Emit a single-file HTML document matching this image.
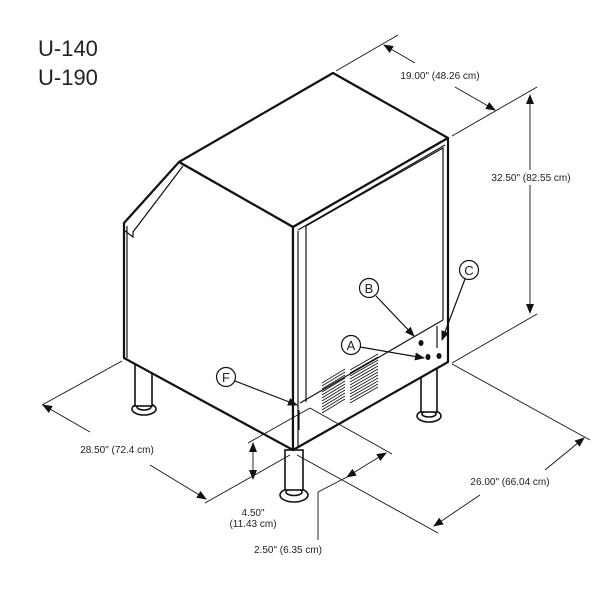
<!DOCTYPE html>
<html><head><style>
html,body{margin:0;padding:0;background:#fff;}
svg{display:block;}
text{font-family:"Liberation Sans",sans-serif;fill:#222;}
</style></head><body>
<svg width="602" height="593" viewBox="0 0 602 593" xmlns="http://www.w3.org/2000/svg">
<defs>
<marker id="ar" markerWidth="10" markerHeight="8" refX="9" refY="4" orient="auto" markerUnits="userSpaceOnUse">
<path d="M0,0 L10,4 L0,8 z" fill="#111"/>
</marker>
</defs>
<text x="38" y="56" font-size="22">U-140</text>
<text x="38" y="85" font-size="22">U-190</text>

<g stroke="#111" fill="none">
<!-- legs -->
<g stroke-width="1.6" fill="#fff">
<ellipse cx="144" cy="409" rx="12" ry="6"/>
<ellipse cx="144" cy="407" rx="7" ry="3"/>
<rect x="135" y="358" width="17" height="48"/>
<ellipse cx="429" cy="416" rx="12" ry="6"/>
<ellipse cx="429" cy="414" rx="7" ry="3"/>
<rect x="421" y="360" width="16" height="52"/>
<ellipse cx="294" cy="495" rx="14" ry="7"/>
<ellipse cx="294" cy="492" rx="8" ry="3.5"/>
<rect x="285" y="450" width="18" height="40"/>
</g>
<!-- body -->
<g stroke-width="2.2" fill="#fff" stroke-linejoin="round">
<path d="M179,162 L333,73 L448,138 L293,227 Z"/>
<path d="M179,162 L124,223 L124,358 L293,450 L293,227 Z"/>
<path d="M293,227 L448,138 L448,362 L293,450 Z"/>
</g>
<g stroke-width="1.2">
<path d="M183,166 L133,232 L133,237 L124,230"/>
<path d="M127,226 L127,358"/>
<path d="M298,230 L445,145"/>
<path d="M306,226 L443,148 L443,320"/>
<path d="M298,231 L298,448"/>
<path d="M306,226 L306,402"/>
<path d="M300,403 L443,320"/>
<path d="M299,410 L299,430"/>
<path d="M437,326 L437,348"/>
</g>
<!-- grille -->
<g stroke-width="0.8">
<path d="M322,392 L345,378 M322,395 L345,381 M322,398 L345,384 M322,401 L345,387 M322,404 L345,390 M322,407 L345,393 M322,410 L345,396 M322,413 L345,399 M322,389 L345,375 M322,386 L345,372 M322,383 L345,369"/>
<path d="M350,376 L378,360 M350,379 L378,363 M350,382 L378,366 M350,385 L378,369 M350,388 L378,372 M350,391 L378,375 M350,394 L378,378 M350,397 L378,381 M350,400 L378,384 M350,403 L378,387 M350,373 L378,357 M350,370 L378,354"/>
</g>
<!-- holes -->
<g fill="#111" stroke="none">
<ellipse cx="421" cy="343" rx="2.5" ry="3"/>
<ellipse cx="428" cy="357" rx="2.5" ry="3"/>
<ellipse cx="439" cy="356" rx="2.5" ry="3"/>
</g>
<!-- callouts -->
<g stroke-width="1.2" fill="#fff">
<circle cx="369" cy="288" r="9.5"/>
<circle cx="469" cy="270" r="9.5"/>
<circle cx="351" cy="345" r="9.5"/>
<circle cx="226" cy="377" r="9.5"/>
</g>
<g stroke-width="1.2" marker-end="url(#ar)">
<line x1="376" y1="296" x2="414" y2="336"/>
<line x1="465" y1="279" x2="442" y2="340"/>
<line x1="360" y1="347" x2="424" y2="358"/>
<line x1="235" y1="381" x2="297" y2="405"/>
</g>
<!-- dimension lines -->
<g stroke-width="0.9">
<line x1="336" y1="71" x2="398" y2="35"/>
<line x1="452" y1="136" x2="537" y2="87"/>
<line x1="452" y1="363" x2="537" y2="314"/>
<line x1="452" y1="364" x2="590" y2="440"/>
<line x1="297" y1="455" x2="438" y2="533"/>
<line x1="122" y1="361" x2="42" y2="405"/>
<line x1="290" y1="455" x2="205" y2="503"/>
<line x1="248" y1="443" x2="310" y2="408"/>
<line x1="310" y1="408" x2="392" y2="454"/>
<line x1="318" y1="492" x2="318" y2="540"/>
<line x1="318" y1="492" x2="347" y2="477"/>
</g>
<g stroke-width="0.9" marker-end="url(#ar)">
<line x1="415" y1="63" x2="384" y2="45"/>
<line x1="455" y1="87" x2="495" y2="110"/>
<line x1="530" y1="170" x2="530" y2="95"/>
<line x1="530" y1="185" x2="530" y2="313"/>
<line x1="545" y1="470" x2="584" y2="438"/>
<line x1="480" y1="495" x2="434" y2="526"/>
<line x1="90" y1="432" x2="43" y2="405"/>
<line x1="150" y1="465" x2="206" y2="499"/>
<line x1="253" y1="460" x2="253" y2="443"/>
<line x1="253" y1="460" x2="253" y2="479"/>
<line x1="366" y1="465" x2="347" y2="477"/>
<line x1="366" y1="465" x2="386" y2="453"/>
</g>
</g>
<g font-size="10">
<text x="440" y="79" text-anchor="middle">19.00" (48.26 cm)</text>
<text x="531" y="181" text-anchor="middle">32.50" (82.55 cm)</text>
<text x="510" y="485" text-anchor="middle">26.00" (66.04 cm)</text>
<text x="117" y="453" text-anchor="middle">28.50" (72.4 cm)</text>
<text x="253" y="516" text-anchor="middle">4.50"</text>
<text x="253" y="527" text-anchor="middle">(11.43 cm)</text>
<text x="288" y="553" text-anchor="middle">2.50" (6.35 cm)</text>
</g>
<g font-size="13" text-anchor="middle">
<text x="369" y="293">B</text>
<text x="469" y="275">C</text>
<text x="351" y="350">A</text>
<text x="226" y="382">F</text>
</g>
</svg>
</body></html>
